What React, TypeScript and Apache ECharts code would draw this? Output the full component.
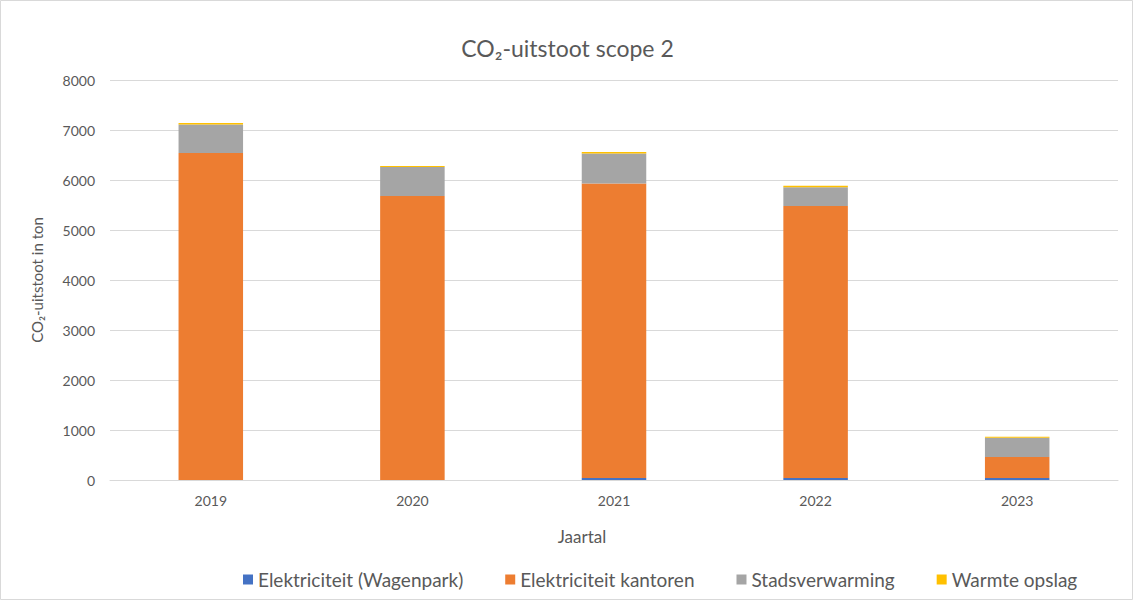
import React, { useEffect, useRef } from "react";
import * as echarts from "echarts";

const years = ["2019", "2020", "2021", "2022", "2023"];
const wagenpark = [0, 0, 40, 40, 40];
const kantoren = [6540, 5680, 5890, 5440, 420];
const stadsverwarming = [570, 580, 600, 375, 385];
const warmteOpslag = [30, 20, 30, 30, 20];
const yTicks = [0, 1000, 2000, 3000, 4000, 5000, 6000, 7000, 8000];

const FONT = "Lato, 'Open Sans', sans-serif";
const TXT = "#595959";

export default function App() {
  const ref = useRef<HTMLDivElement>(null);
  useEffect(() => {
    if (!ref.current) return;
    const chart = echarts.init(ref.current, undefined, { renderer: "svg" });
    const mk = (name: string, data: number[], color: string) => ({
      name,
      type: "bar",
      stack: "total",
      data,
      barWidth: "32%",
      itemStyle: { color },
    });
    chart.setOption({
      animation: false,
      textStyle: { fontFamily: FONT },
      title: {
        text: "CO₂-uitstoot scope 2",
        left: "center",
        top: 31,
        textStyle: { fontFamily: FONT, fontSize: 23, fontWeight: "normal", color: TXT },
      },
      grid: { left: 110, right: 17, top: 80, bottom: 121 },
      legend: {
        left: 238,
        top: 565,
        itemWidth: 10,
        itemHeight: 10,
        itemGap: 42,
        icon: "rect",
        textStyle: { fontFamily: FONT, fontSize: 19, color: TXT },
        data: ["Elektriciteit (Wagenpark)", "Elektriciteit kantoren", "Stadsverwarming", "Warmte opslag"],
      },
      xAxis: {
        type: "category",
        data: years,
        name: "Jaartal",
        nameLocation: "middle",
        nameGap: 48,
        nameTextStyle: { fontFamily: FONT, fontSize: 17, color: TXT, padding: [0, 64, 0, 0] },
        axisLine: { lineStyle: { color: "#d9d9d9" } },
        axisTick: { show: false },
        axisLabel: { fontFamily: FONT, fontSize: 14, color: TXT, margin: 13 },
      },
      yAxis: {
        type: "value",
        min: yTicks[0],
        max: yTicks[yTicks.length - 1],
        interval: 1000,
        name: "CO₂-uitstoot in ton",
        nameLocation: "middle",
        nameGap: 66,
        nameRotate: 90,
        nameTextStyle: { fontFamily: FONT, fontSize: 15, color: TXT },
        axisLine: { show: false },
        axisTick: { show: false },
        axisLabel: { fontFamily: FONT, fontSize: 14, color: TXT, margin: 15, formatter: (v: number) => String(v) },
        splitLine: { lineStyle: { color: "#d9d9d9" } },
      },
      graphic: [
        {
          type: "rect",
          shape: { x: 0.5, y: 0.5, width: 1132, height: 599 },
          style: { fill: "none", stroke: "#d9d9d9", lineWidth: 1 },
          silent: true,
        },
      ],
      series: [
        mk("Elektriciteit (Wagenpark)", wagenpark, "#4472C4"),
        mk("Elektriciteit kantoren", kantoren, "#ED7D31"),
        mk("Stadsverwarming", stadsverwarming, "#A5A5A5"),
        mk("Warmte opslag", warmteOpslag, "#FFC000"),
      ],
    });
    return () => chart.dispose();
  }, []);
  return <div ref={ref} style={{ width: 1135, height: 601, position: "absolute", left: 0, top: 0, background: "#fff" }} />;
}
